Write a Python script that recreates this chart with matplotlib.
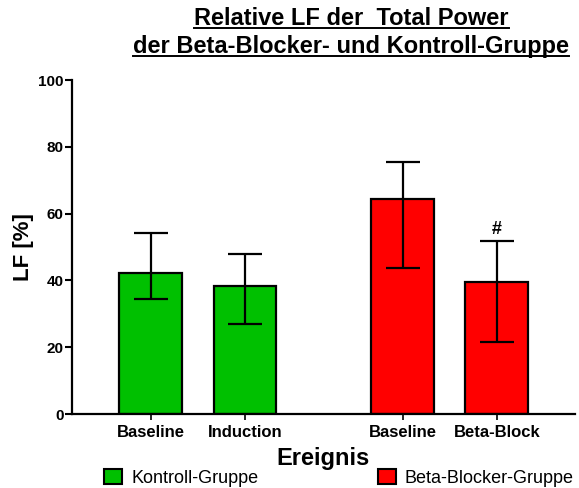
import matplotlib.pyplot as plt
from matplotlib.patches import Patch
from matplotlib.lines import Line2D
import numpy as np

plt.rcParams['font.family'] = ['Liberation Sans', 'DejaVu Sans']

# data
categories = ['Baseline', 'Induction', 'Baseline', 'Beta-Block']
groups = ['Kontroll-Gruppe', 'Kontroll-Gruppe', 'Beta-Blocker-Gruppe', 'Beta-Blocker-Gruppe']
means = [42.3, 38.3, 64.3, 39.4]
err_low = [34.4, 26.9, 43.7, 21.5]
err_high = [54.3, 47.8, 75.4, 51.8]
markers = ['', '', '', '#']

colors = {'Kontroll-Gruppe': '#00c000', 'Beta-Blocker-Gruppe': '#ff0000'}

# bar positions: two groups with a gap between them
group_gap = 0.68
x = np.array([0, 1, 2 + group_gap, 3 + group_gap])

fig = plt.figure(figsize=(5.79, 4.88), dpi=100)
ax = fig.add_axes([0.1244, 0.1516, 0.8686, 0.6844])

bar_colors = [colors[g] for g in groups]
ax.bar(x, means, width=0.67, color=bar_colors, edgecolor='black', linewidth=1.6, zorder=2)

means_arr = np.array(means)
yerr = [means_arr - np.array(err_low), np.array(err_high) - means_arr]
ax.errorbar(x, means, yerr=yerr, fmt='none', ecolor='black', elinewidth=1.6,
            capsize=12, capthick=1.6, zorder=3)

for xi, hi, m in zip(x, err_high, markers):
    if m:
        ax.text(xi, hi + 0.8, m, ha='center', va='bottom', fontsize=13, fontweight='bold')

ax.set_ylim(0, 100)
ax.set_xlim(-0.84, 4.51)
ax.set_yticks([0, 20, 40, 60, 80, 100])
ax.set_xticks(x)
ax.set_xticklabels(categories, fontsize=12, fontweight='bold')
for lab in ax.get_yticklabels():
    lab.set_fontweight('bold')
    lab.set_fontsize(11)
ax.tick_params(axis='y', direction='out', length=5, width=1.5, pad=1)
ax.tick_params(axis='x', direction='out', length=4, width=1.2, pad=4)

for s in ['top', 'right']:
    ax.spines[s].set_visible(False)
for s in ['left', 'bottom']:
    ax.spines[s].set_linewidth(1.6)

ax.set_ylabel('LF [%]', fontsize=16, fontweight='bold', labelpad=3)
ax.set_xlabel('Ereignis', fontsize=17, fontweight='bold', labelpad=5)

# title with underline
title_lines = ['Relative LF der  Total Power', 'der Beta-Blocker- und Kontroll-Gruppe']
title_y = [0.963, 0.904]
fig.canvas.draw()
renderer = fig.canvas.get_renderer()
for line, ty in zip(title_lines, title_y):
    t = fig.text(0.607, ty, line, ha='center', va='center', fontsize=17, fontweight='bold')
    bb = t.get_window_extent(renderer=renderer)
    x0, y0 = fig.transFigure.inverted().transform((bb.x0, bb.y0))
    x1, _ = fig.transFigure.inverted().transform((bb.x1, bb.y0))
    fig.add_artist(Line2D([x0, x1], [y0 + 0.004, y0 + 0.004], color='black', linewidth=1.4,
                          transform=fig.transFigure))

# legend, one entry per group
leg_pos = {'Kontroll-Gruppe': 0.18, 'Beta-Blocker-Gruppe': 0.652}
for g in ['Kontroll-Gruppe', 'Beta-Blocker-Gruppe']:
    h = Patch(facecolor=colors[g], edgecolor='black', linewidth=1.5)
    fig.legend(handles=[h], labels=[g], loc='center left', bbox_to_anchor=(leg_pos[g], 0.02),
               frameon=False, fontsize=13, handlelength=1.0, handleheight=0.9,
               handletextpad=0.5, borderpad=0, borderaxespad=0)

fig.savefig('out.png', dpi=100)
